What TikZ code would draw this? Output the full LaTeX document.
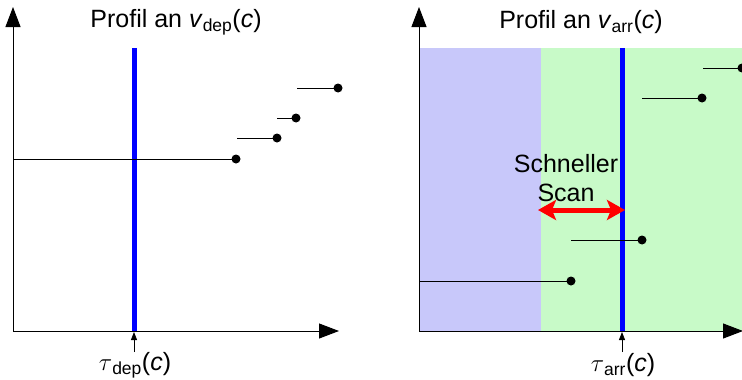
\documentclass[tikz,border=0pt]{standalone}
\usepackage{fontspec}
\setmainfont{Liberation Sans}
\usetikzlibrary{arrows.meta}
\definecolor{bgblue}{RGB}{200,200,250}
\definecolor{bggreen}{RGB}{200,250,200}
\tikzset{
  axis/.style={line width=1pt,-{Triangle[length=20pt,width=15pt]}},
  seg/.style={line width=0.9pt},
  dot/.style={circle,fill=black,inner sep=0pt,minimum size=9pt},
  tauline/.style={line width=5pt,blue},
  tauarrow/.style={line width=0.8pt,-{Triangle[length=8pt,width=6pt]}},
  txt/.style={font=\fontsize{25}{29}\selectfont,inner sep=0pt},
}
\begin{document}
\begin{tikzpicture}[x=1pt,y=-1pt]
\useasboundingbox (0,0) rectangle (742,380);
% backgrounds right panel
\fill[bgblue] (419,48) rectangle (541,331);
\fill[bggreen] (541,48) rectangle (742,331);
% ---------- left panel ----------
\coordinate (o1) at (13,331);
\coordinate (y1) at (13,7);
\coordinate (x1) at (339,331);
\node[txt] (t1) at (176,22) {Profil an \textit{v}\textsubscript{dep}(\textit{c})};
\coordinate (b1t) at (134,48);
\coordinate (b1b) at (134,331);
\draw[tauline] (b1t) -- (b1b);
\node[dot] (p1) at (236,159) {};
\node[dot] (p2) at (277,138) {};
\node[dot] (p3) at (296,118) {};
\node[dot] (p4) at (338,88) {};
\coordinate (s1) at (13,159);
\coordinate (s2) at (237,138);
\coordinate (s3) at (277,118);
\coordinate (s4) at (297,88);
\draw[seg] (s1) -- (p1.center);
\draw[seg] (s2) -- (p2.center);
\draw[seg] (s3) -- (p3.center);
\draw[seg] (s4) -- (p4.center);
\draw[axis] (o1) -- (y1);
\draw[axis] (o1) -- (x1);
\coordinate (a1s) at (134,352);
\coordinate (a1e) at (134,332);
\draw[tauarrow] (a1s) -- (a1e);
\node[txt] (l1) at (135,365) {$\tau$\textsubscript{dep}(\textit{c})};
% ---------- right panel ----------
\coordinate (o2) at (419,331);
\coordinate (y2) at (419,7);
\coordinate (x2) at (743,331);
\node[txt] (t2) at (581,22) {Profil an \textit{v}\textsubscript{arr}(\textit{c})};
\coordinate (b2t) at (622,48);
\coordinate (b2b) at (622,331);
\draw[tauline] (b2t) -- (b2b);
\node[dot] (q1) at (571,281) {};
\node[dot] (q2) at (642,240) {};
\node[dot] (q3) at (702,98) {};
\node[dot] (q4) at (742,68) {};
\coordinate (r1) at (419,281);
\coordinate (r2) at (571,240);
\coordinate (r3) at (642,98);
\coordinate (r4) at (703,68);
\draw[seg] (r1) -- (q1.center);
\draw[seg] (r2) -- (q2.center);
\draw[seg] (r3) -- (q3.center);
\draw[seg] (r4) -- (q4.center);
\draw[axis] (o2) -- (y2);
\draw[axis] (o2) -- (x2);
\node[txt,align=center] (sc) at (566,178) {Schneller\\Scan};
\coordinate (ra) at (538,210);
\coordinate (rb) at (625,210);
\draw[red,line width=5pt,{Stealth[length=18pt,width=20pt,inset=4pt]}-{Stealth[length=18pt,width=20pt,inset=4pt]}] (ra) -- (rb);
\coordinate (a2s) at (622,352);
\coordinate (a2e) at (622,332);
\draw[tauarrow] (a2s) -- (a2e);
\node[txt] (l2) at (623,365) {$\tau$\textsubscript{arr}(\textit{c})};
\end{tikzpicture}
\end{document}
